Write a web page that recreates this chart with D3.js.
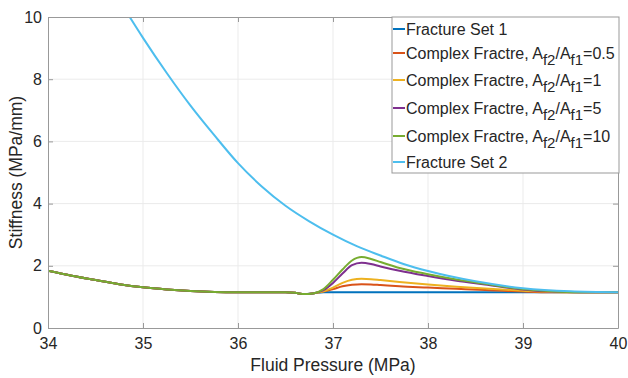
<!DOCTYPE html>
<html>
<head>
<meta charset="utf-8">
<script src="https://cdn.jsdelivr.net/npm/d3@7"></script>
<style>
  body { margin: 0; background: #fff; }
  text { font-family: "Liberation Sans", Arial, sans-serif; fill: #262626; }
</style>
</head>
<body>
<svg width="628" height="378"></svg>
<script>
// data
var xTicks = [34, 35, 36, 37, 38, 39, 40]
var yTicks = [0, 2, 4, 6, 8, 10]

// shared x grid for the fracture set 1 / complex curves
var xs = [34, 34.25, 34.5, 34.75, 35, 35.25, 35.5, 35.75, 36, 36.25, 36.5, 36.6, 36.7, 36.8,
          36.9, 37.0, 37.1, 37.2, 37.3, 37.4, 37.5, 37.7, 38.0, 38.3, 38.6, 39.0, 39.3, 39.6, 40]
// part before the bump is the same for all of them
var leftPart = [1.84, 1.68, 1.54, 1.41, 1.31, 1.24, 1.19, 1.16, 1.15, 1.15, 1.15, 1.13, 1.09, 1.12]

var set1 = leftPart.concat([1.15, 1.15, 1.15, 1.15, 1.15, 1.15, 1.15, 1.15, 1.15, 1.15, 1.15, 1.15, 1.15, 1.15, 1.15])
var ratio05 = leftPart.concat([1.17, 1.25, 1.34, 1.39, 1.41, 1.40, 1.38, 1.34, 1.30, 1.26, 1.22, 1.17, 1.15, 1.15, 1.15])
var ratio1 = leftPart.concat([1.18, 1.30, 1.45, 1.55, 1.58, 1.57, 1.54, 1.48, 1.40, 1.33, 1.27, 1.20, 1.16, 1.15, 1.15])
var ratio5 = leftPart.concat([1.22, 1.45, 1.75, 2.02, 2.10, 2.06, 1.98, 1.84, 1.67, 1.52, 1.40, 1.24, 1.17, 1.15, 1.15])
var ratio10 = leftPart.concat([1.25, 1.55, 1.88, 2.17, 2.28, 2.22, 2.12, 1.93, 1.73, 1.56, 1.42, 1.25, 1.18, 1.15, 1.15])

// fracture set 2 has its own points
var xs2 = [34.86, 35, 35.25, 35.5, 35.75, 36, 36.25, 36.5, 36.75, 37, 37.25, 37.5, 37.75, 38, 38.5, 39, 39.5, 40]
var set2 = [10, 9.33, 8.2, 7.15, 6.2, 5.3, 4.55, 3.93, 3.43, 3.0, 2.63, 2.33, 2.05, 1.83, 1.50, 1.28, 1.18, 1.15]

var series = [
  {name: "Fracture Set 1", x: xs, y: set1, color: "#0072BD"},
  {name: "Complex Fractre, ", ratio: "0.5", x: xs, y: ratio05, color: "#D95319"},
  {name: "Complex Fractre, ", ratio: "1", x: xs, y: ratio1, color: "#EDB120"},
  {name: "Complex Fractre, ", ratio: "5", x: xs, y: ratio5, color: "#7E2F8E"},
  {name: "Complex Fractre, ", ratio: "10", x: xs, y: ratio10, color: "#77AC30"},
  {name: "Fracture Set 2", x: xs2, y: set2, color: "#4DBEEE"}
]

var svg = d3.select("svg")
var pLeft = 48, pRight = 618, pTop = 17, pBottom = 328

var x = d3.scaleLinear().domain([34, 40]).range([pLeft, pRight])
var y = d3.scaleLinear().domain([0, 10]).range([pBottom, pTop])

// grid
svg.append("g").selectAll("line").data(xTicks.slice(1, -1)).enter().append("line")
  .attr("x1", d => x(d)).attr("x2", d => x(d)).attr("y1", pTop).attr("y2", pBottom)
  .attr("stroke", "#ebebeb").attr("stroke-width", 1)
svg.append("g").selectAll("line").data(yTicks.slice(1, -1)).enter().append("line")
  .attr("y1", d => y(d)).attr("y2", d => y(d)).attr("x1", pLeft).attr("x2", pRight)
  .attr("stroke", "#ebebeb").attr("stroke-width", 1)

// lines
svg.append("clipPath").attr("id", "clip").append("rect")
  .attr("x", pLeft).attr("y", pTop).attr("width", pRight - pLeft).attr("height", pBottom - pTop)

var line = d3.line().curve(d3.curveMonotoneX)
var plot = svg.append("g").attr("clip-path", "url(#clip)")
series.forEach(function (s) {
  plot.append("path")
    .attr("d", line(s.x.map((v, i) => [x(v), y(s.y[i])])))
    .attr("fill", "none")
    .attr("stroke", s.color)
    .attr("stroke-width", 2)
})

// axes (box with ticks inside)
var axisColor = "#999"
var xBot = d3.axisBottom(x).tickValues(xTicks).tickFormat(d3.format("d")).tickSizeInner(-5).tickSizeOuter(0).tickPadding(10)
var yLeft = d3.axisLeft(y).tickValues(yTicks).tickFormat(d3.format("d")).tickSizeInner(-5).tickSizeOuter(0).tickPadding(6)
var gx = svg.append("g").attr("transform", "translate(0," + pBottom + ")").call(xBot)
var gy = svg.append("g").attr("transform", "translate(" + pLeft + ",0)").call(yLeft)
var gxt = svg.append("g").attr("transform", "translate(0," + pTop + ")")
  .call(d3.axisTop(x).tickValues(xTicks).tickSizeInner(-5).tickSizeOuter(0).tickFormat(""))
var gyr = svg.append("g").attr("transform", "translate(" + pRight + ",0)")
  .call(d3.axisRight(y).tickValues(yTicks).tickSizeInner(-5).tickSizeOuter(0).tickFormat(""))

;[gx, gy, gxt, gyr].forEach(function (g) {
  g.select(".domain").attr("stroke", axisColor)
  g.selectAll(".tick line").attr("stroke", axisColor)
  g.selectAll(".tick text").attr("font-size", 16).attr("fill", "#262626")
    .style("font-family", "'Liberation Sans', Arial, sans-serif")
})

svg.append("text").attr("x", (pLeft + pRight) / 2).attr("y", 371)
  .attr("text-anchor", "middle").attr("font-size", 17.5).text("Fluid Pressure (MPa)")
svg.append("text").attr("transform", "translate(22," + (pTop + pBottom) / 2 + ") rotate(-90)")
  .attr("text-anchor", "middle").attr("font-size", 17.5).text("Stiffness (MPa/mm)")

// legend
var lg = svg.append("g")
lg.append("rect").attr("x", 392).attr("y", 17).attr("width", 227).attr("height", 156)
  .attr("fill", "#fff").attr("stroke", "#999").attr("stroke-width", 1)

var rowY = [29, 53, 80, 108, 136, 162]
series.forEach(function (s, i) {
  var yy = rowY[i]
  lg.append("line").attr("x1", 393).attr("x2", 405).attr("y1", yy).attr("y2", yy)
    .attr("stroke", s.color).attr("stroke-width", 2)
  var t = lg.append("text").attr("x", 406).attr("y", yy + 6).attr("font-size", 16)
  if (s.ratio == null) {
    t.text(s.name)
  } else {
    t.append("tspan").text(s.name + "A")
    t.append("tspan").attr("font-size", 15).attr("dy", 6).text("f2")
    t.append("tspan").attr("dy", -6).text("/A")
    t.append("tspan").attr("font-size", 15).attr("dy", 6).text("f1")
    t.append("tspan").attr("dy", -6).text("=" + s.ratio)
  }
})
</script>
</body>
</html>
